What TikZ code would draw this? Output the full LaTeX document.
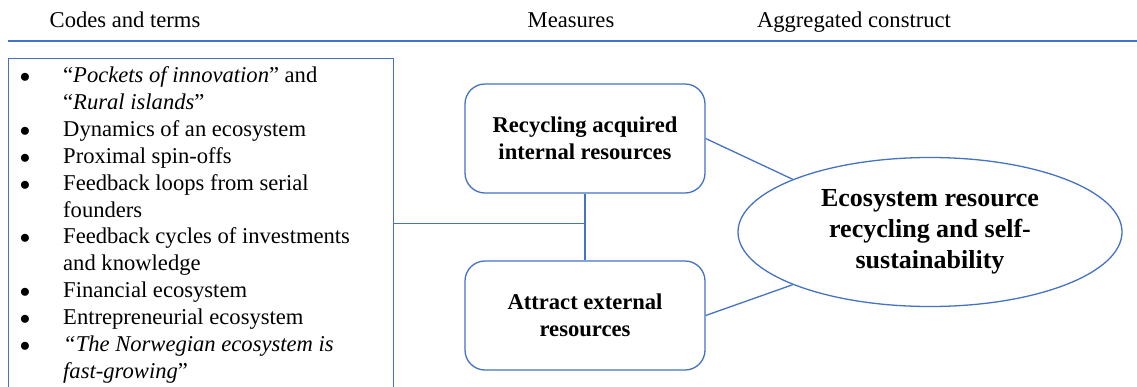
\documentclass[tikz,border=0pt]{standalone}
\usepackage{fontspec}
\setmainfont{Liberation Serif}
\usetikzlibrary{shapes.geometric}
\definecolor{lineblue}{RGB}{68,114,196}

\begin{document}
\begin{tikzpicture}[x=1pt,y=-1pt,
  conn/.style={draw=lineblue, line width=1.3pt},
  listbox/.style={draw=lineblue, line width=1.3pt, rectangle, inner sep=0pt,
    minimum width=385pt, minimum height=330pt, anchor=north west},
  measure/.style={draw=lineblue, line width=1.3pt, rounded corners=20pt,
    minimum width=240pt, minimum height=109pt, align=center, inner sep=0pt,
    font=\fontsize{22.6}{27}\selectfont\bfseries},
  construct/.style={ellipse, draw=lineblue, line width=1.3pt, inner sep=0pt,
    minimum width=384pt, minimum height=149pt, align=center,
    font=\fontsize{26}{31}\selectfont\bfseries},
  head/.style={font=\fontsize{22.6}{27}\selectfont, anchor=base, inner sep=0pt},
  item/.style={font=\fontsize{22.6}{27}\selectfont, anchor=base west, inner sep=0pt},
  dot/.style={font=\fontsize{22.6}{27}\selectfont, anchor=base, inner sep=0pt}]

\useasboundingbox (0,0) rectangle (1137,386);

% column headings
\node[head] (h1) at (125,27) {Codes and terms};
\node[head] (h2) at (571,27) {Measures};
\node[head] (h3) at (854,27) {Aggregated construct};
\draw[conn] (8,41) -- (1137,41);

% list of codes and terms
\node[listbox] (codes) at (8,58) {};
\foreach \t [count=\i from 0] in {%
    {``\textit{Pockets of innovation}'' and},
    {``\textit{Rural islands}''},
    {Dynamics of an ecosystem},
    {Proximal spin-offs},
    {Feedback loops from serial},
    {founders},
    {Feedback cycles of investments},
    {and knowledge},
    {Financial ecosystem},
    {Entrepreneurial ecosystem},
    {\textit{``The Norwegian ecosystem is}},
    {\textit{fast-growing}''}}
  \node[item] (line\i) at (63,82.5+26.9*\i) {\t};
\foreach \i in {0,2,3,4,6,8,9,10}
  \node[dot] (dot\i) at (25,82.5+26.9*\i) {$\bullet$};

% measures
\node[measure] (rec) at (585,138.5) {Recycling acquired\\internal resources};
\node[measure] (att) at (585,315.5) {Attract external\\resources};

% aggregated construct
\node[construct] (eco) at (930,232) {Ecosystem resource\\recycling and self-\\sustainability};

% connectors
\draw[conn] (rec.south) -- (att.north);
\draw[conn] (codes.east) -- (codes.east -| rec.south);
\draw[conn] (rec.east) -- (eco.159);
\draw[conn] (att.east) -- (eco.201);
\end{tikzpicture}
\end{document}
